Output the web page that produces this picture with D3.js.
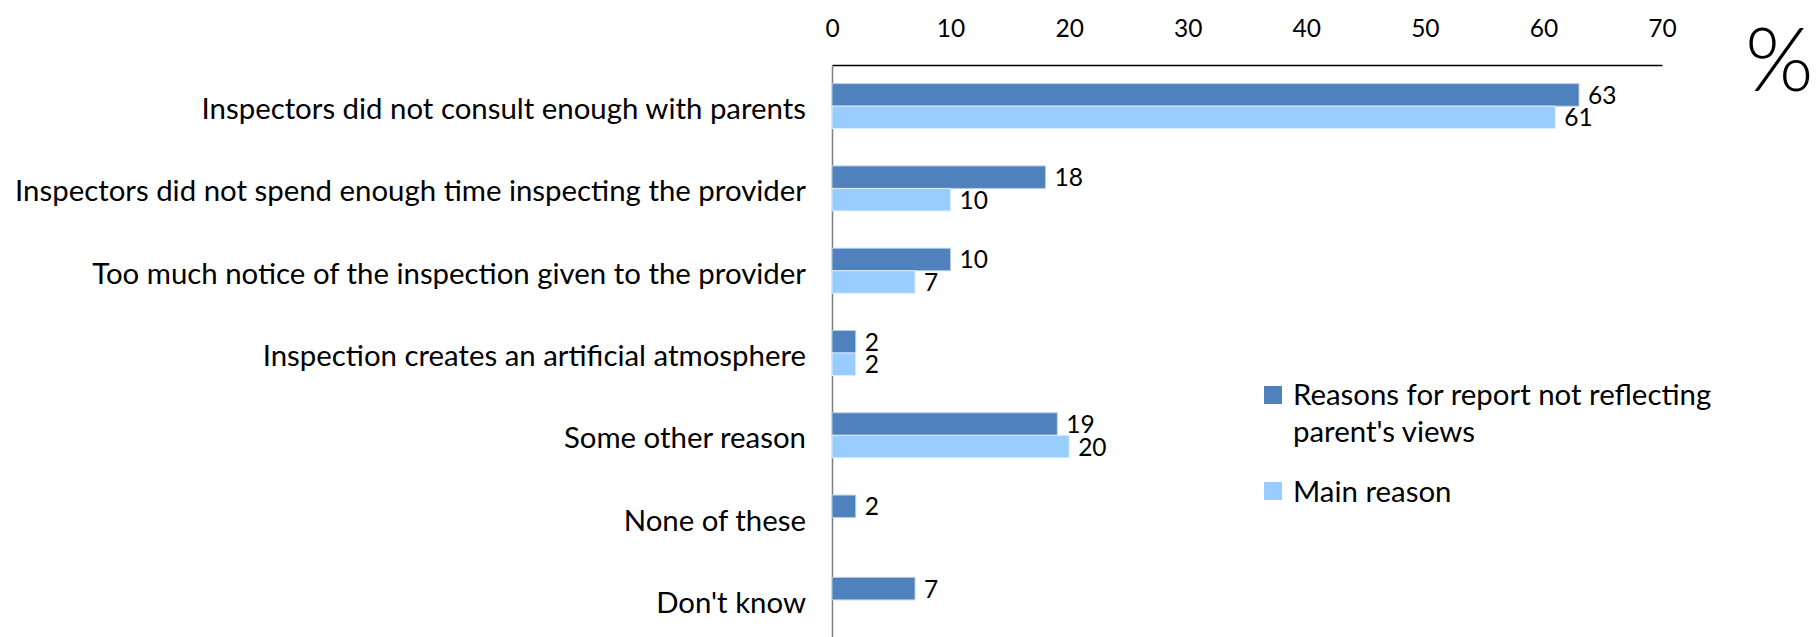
<!DOCTYPE html>
<html>
<head>
<meta charset="utf-8">
<script src="https://cdn.jsdelivr.net/npm/d3@7"></script>
<style>
  body { margin: 0; background: #fff; }
  svg { display: block; }
  svg text { font-family: Lato, "Open Sans", sans-serif; }
</style>
</head>
<body>
<div id="chart"></div>
<script>
const categories = [
    "Inspectors did not consult enough with parents",
    "Inspectors did not spend enough time inspecting the provider",
    "Too much notice of the inspection given to the provider",
    "Inspection creates an artificial atmosphere",
    "Some other reason",
    "None of these",
    "Don't know"
];
const seriesNames = ["Reasons for report not reflecting parent's views", "Main reason"];
const reasons = [63, 18, 10, 2, 19, 2, 7];
const mainReason = [61, 10, 7, 2, 20, null, null];
const xTicks = [0, 10, 20, 30, 40, 50, 60, 70];

const width = 1818, height = 637;
const colors = ["#4f81bd", "#99ccff"];
const strokes = ["#b9cde5", "#dbeeff"];

const svg = d3.select("#chart").append("svg")
    .attr("width", width)
    .attr("height", height);

const x = d3.scaleLinear().domain([0, 70]).range([832, 1662]);
const y = d3.scaleBand().domain(categories).range([65, 641]);
const inner = d3.scaleBand().domain([0, 1]).range([0, y.bandwidth()]).paddingOuter(0.83);

// top axis, labels only
const xAxis = svg.append("g")
    .attr("transform", "translate(0,65)")
    .call(d3.axisTop(x).tickValues(xTicks).tickSize(0).tickPadding(28))
    .attr("font-family", null);
xAxis.select(".domain").attr("stroke", "#000").attr("stroke-width", 1.5);
xAxis.selectAll("text").style("font-size", "24.5px").attr("fill", "#000");

// left axis with category labels
const yAxis = svg.append("g")
    .attr("transform", "translate(832,0)")
    .call(d3.axisLeft(y).tickSize(0).tickPadding(26))
    .attr("font-family", null);
yAxis.select(".domain").attr("stroke", "#7f7f7f").attr("stroke-width", 1.5);
const catText = yAxis.selectAll("text")
    .attr("dy", 13)
    .style("font-size", "30px")
    .attr("fill", "#000");

// fit the longest label to the width it has in the original
const longest = d3.max(catText.nodes(), n => n.getComputedTextLength());
catText.style("font-size", (30 * 791 / longest).toFixed(2) + "px");

const rows = categories.map((c, i) => ({ cat: c, vals: [reasons[i], mainReason[i]] }));

const group = svg.append("g").selectAll("g")
    .data(rows)
    .enter().append("g")
    .attr("transform", d => `translate(0,${y(d.cat)})`);

const cells = group.selectAll("g.cell")
    .data(d => d.vals.map((v, k) => ({ v, k })).filter(e => e.v != null))
    .enter().append("g")
    .attr("class", "cell");

cells.append("rect")
    .attr("x", x(0))
    .attr("y", d => inner(d.k))
    .attr("width", d => x(d.v) - x(0))
    .attr("height", inner.bandwidth())
    .attr("fill", d => colors[d.k])
    .attr("stroke", d => strokes[d.k])
    .attr("stroke-width", 1);

cells.append("text")
    .attr("x", d => x(d.v) + 9)
    .attr("y", d => inner(d.k) + inner.bandwidth() / 2 + 9)
    .style("font-size", "24.5px")
    .attr("fill", "#000")
    .text(d => d.v);

// legend
const legend = svg.append("g");
const legendRows = [
    { k: 0, sq: 386, lines: ["Reasons for report not reflecting", "parent's views"], base: 405 },
    { k: 1, sq: 482, lines: ["Main reason"], base: 502 }
];
legendRows.forEach(r => {
    legend.append("rect")
        .attr("x", 1264).attr("y", r.sq)
        .attr("width", 18).attr("height", 18)
        .attr("fill", colors[r.k]);
    r.lines.forEach((t, j) => {
        legend.append("text")
            .attr("x", 1293)
            .attr("y", r.base + j * 37)
            .style("font-size", "29.4px")
            .attr("fill", "#000")
            .text(t);
    });
});

svg.append("text")
    .attr("x", 1745)
    .attr("y", 91)
    .style("font-size", "88px")
    .style("font-weight", 300)
    .attr("fill", "#000")
    .text("%");
</script>
</body>
</html>
